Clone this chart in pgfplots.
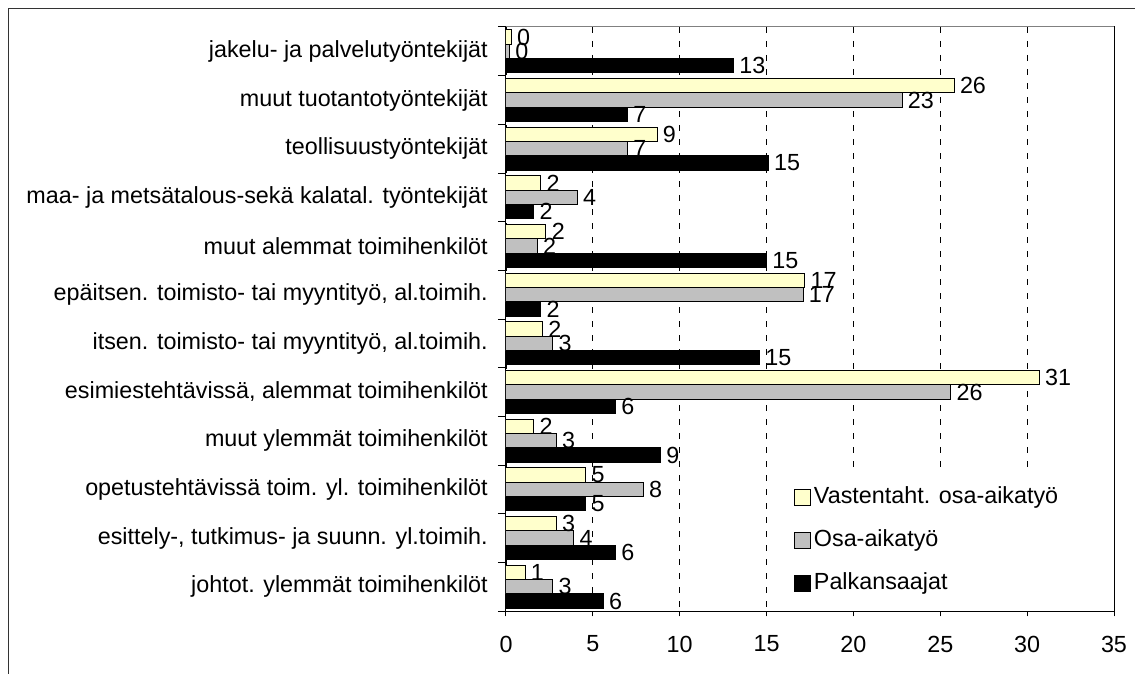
\documentclass[border=0pt]{standalone}
\usepackage{pgfplots}
\pgfplotsset{compat=1.18}
\usepackage{fontspec}
\setmainfont{Liberation Sans}

\definecolor{vast}{HTML}{FFFFCC}
\definecolor{osa}{HTML}{C0C0C0}

\begin{document}
\begin{tikzpicture}
\begin{axis}[
    name=ax, at={(0,0)}, anchor=south west,
    scale only axis, width=456pt, height=438pt,
    xbar=0pt, bar width=10.75pt,
    y dir=reverse,
    xmin=0, xmax=35, ymin=-0.5, ymax=11.5,
    xtick={0,5,...,35},
    ytick={0,...,11},
    yticklabels={jakelu- ja palvelutyöntekijät, muut tuotantotyöntekijät,
        teollisuustyöntekijät, maa- ja metsätalous-sekä kalatal. työntekijät,
        muut alemmat toimihenkilöt, {epäitsen. toimisto- tai myyntityö, al.toimih.},
        {itsen. toimisto- tai myyntityö, al.toimih.}, {esimiestehtävissä, alemmat toimihenkilöt},
        muut ylemmät toimihenkilöt, opetustehtävissä toim. yl. toimihenkilöt,
        {esittely-, tutkimus- ja suunn. yl.toimih.}, johtot. ylemmät toimihenkilöt},
    minor ytick={-0.5,0.5,...,11.5},
    tick pos=left,
    tick align=outside,
    major tick length=4pt, minor tick length=6pt,
    major y tick style={draw=none},
    minor y tick style={black, line width=0.75pt},
    x tick style={black, line width=0.75pt},
    xmajorgrids,
    grid style={black, dash pattern=on 4.5pt off 6pt, line width=0.6pt},
    axis line style={black, line width=0.75pt},
    font=\fontsize{17.5}{21}\selectfont,
    /pgf/number format/assume math mode=true,
    yticklabel style={inner xsep=0pt, xshift=-9.5pt},
    xticklabel style={inner ysep=0pt, yshift=-14.5pt},
    point meta=x,
    nodes near coords={\pgfmathprintnumber[fixed,precision=0]{\pgfplotspointmeta}},
    every node near coord/.append style={font=\fontsize{17.5}{21}\selectfont, inner xsep=4pt, black},
    legend style={at={(0.4518,0.2363)}, anchor=north west, draw=none, fill=white,
        inner xsep=10pt, inner ysep=7.5pt, row sep=11.25pt,
        font=\fontsize{17.5}{21}\selectfont,
        nodes={inner sep=2pt, text height=13pt, text depth=4pt}},
    legend cell align=left,
    reverse legend,
    legend image code/.code={\draw[#1, draw=black, line width=0.75pt] (0pt,-6pt) rectangle (12pt,6pt);},
]
% Palkansaajat
\addplot[fill=black, draw=black, line width=0.75pt] coordinates {
    (13.1,0) (7.0,1) (15.1,2) (1.6,3) (15.0,4) (2.0,5)
    (14.6,6) (6.3,7) (8.9,8) (4.6,9) (6.3,10) (5.6,11)};
% Osa-aikatyo
\addplot[fill=osa, draw=black, line width=0.75pt] coordinates {
    (0.2,0) (22.8,1) (7.0,2) (4.1,3) (1.8,4) (17.1,5)
    (2.7,6) (25.6,7) (2.9,8) (7.9,9) (3.9,10) (2.7,11)};
% Vastentaht. osa-aikatyo
\addplot[fill=vast, draw=black, line width=0.75pt] coordinates {
    (0.3,0) (25.8,1) (8.7,2) (2.0,3) (2.3,4) (17.2,5)
    (2.1,6) (30.7,7) (1.6,8) (4.6,9) (2.9,10) (1.1,11)};
\legend{Palkansaajat, Osa-aikatyö, Vastentaht. osa-aikatyö}
\end{axis}
\draw[gray, line width=0.75pt] (ax.north west) -- (ax.north east);
\pgfresetboundingbox
\path[use as bounding box] ([shift={(-379.5pt,-47.25pt)}]ax.south west)
    rectangle ([shift={(471.75pt,458.25pt)}]ax.south west);
\draw[black!80, line width=0.75pt] ([shift={(-372.75pt,-60pt)}]ax.south west)
    -- ([shift={(-372.75pt,451.5pt)}]ax.south west)
    -- ([shift={(480pt,451.5pt)}]ax.south west);
\end{tikzpicture}
\end{document}
